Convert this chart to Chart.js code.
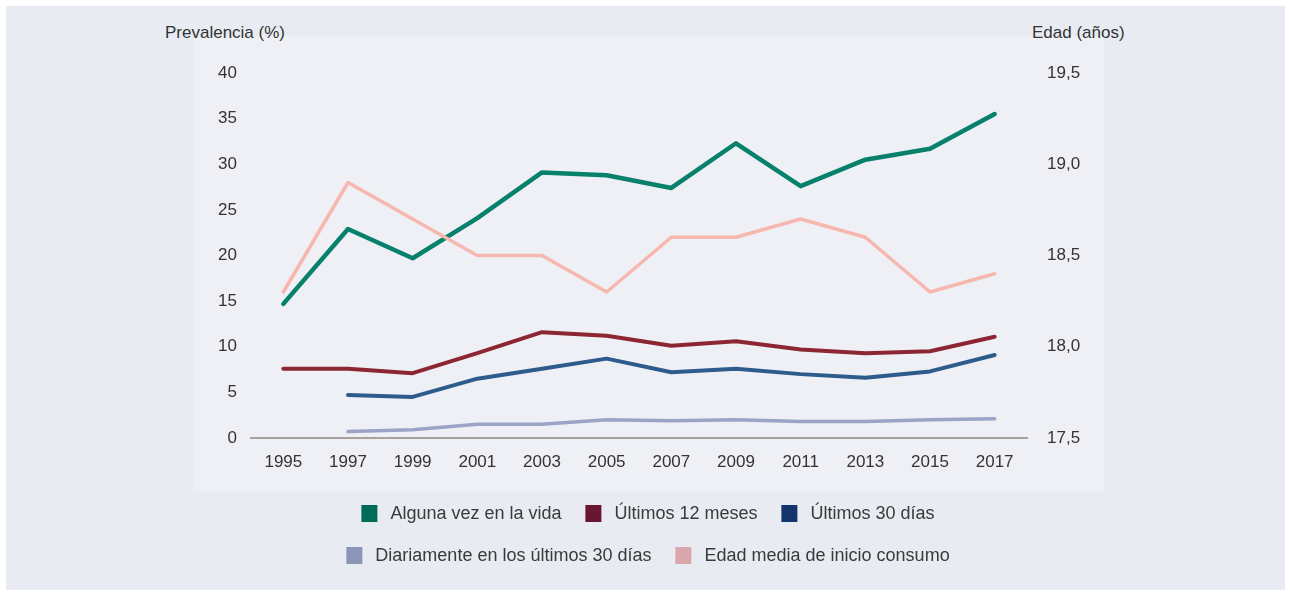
<!DOCTYPE html>
<html>
<head>
<meta charset="utf-8">
<script src="https://cdn.jsdelivr.net/npm/chart.js@4"></script>
<style>
    html, body { margin: 0; padding: 0; background: #ffffff; }
    body { width: 1290px; height: 594px; position: relative; overflow: hidden; font-family: "Liberation Sans", Arial, sans-serif; }
    #panel { position: absolute; left: 6px; top: 6px; width: 1279px; height: 584px; background: #e9ebf2; }
    #plotBg { position: absolute; left: 193px; top: 36px; width: 911px; height: 456px; background: #eff0f5; }
    #chartBox { position: absolute; left: 0; top: 0; width: 1290px; height: 594px; }
    .axisTitle { position: absolute; top: 23px; font-size: 17px; line-height: 20px; color: #333333; }
    .legendRow { position: absolute; left: 648px; transform: translateX(-50%); white-space: nowrap; font-size: 18px; line-height: 20px; color: #3a3a3a; display: flex; align-items: center; }
    .legendItem { display: flex; align-items: center; margin: 0 12px; }
    .legendItem span.box { display: inline-block; width: 16px; height: 17px; margin-right: 13px; }
</style>
</head>
<body>
<div id="panel"></div>
<div id="plotBg"></div>
<div class="axisTitle" style="left:165px;">Prevalencia (%)</div>
<div class="axisTitle" style="left:1032px;">Edad (años)</div>
<div id="chartBox"><canvas id="lineChart" width="1290" height="594"></canvas></div>
<div class="legendRow" id="legendRow1" style="top:503px;"></div>
<div class="legendRow" id="legendRow2" style="top:545px;"></div>

<script>
const years = ['1995', '1997', '1999', '2001', '2003', '2005', '2007', '2009', '2011', '2013', '2015', '2017'];

const algunaVez = [14.7, 22.9, 19.7, 24.1, 29.1, 28.8, 27.4, 32.3, 27.6, 30.5, 31.7, 35.5];
const ultimos12 = [7.6, 7.6, 7.1, 9.3, 11.6, 11.2, 10.1, 10.6, 9.7, 9.3, 9.5, 11.1];
const ultimos30 = [null, 4.7, 4.5, 6.5, 7.6, 8.7, 7.2, 7.6, 7.0, 6.6, 7.3, 9.1];
const diariamente = [null, 0.7, 0.9, 1.5, 1.5, 2.0, 1.9, 2.0, 1.8, 1.8, 2.0, 2.1];
const edadMedia = [18.3, 18.9, 18.7, 18.5, 18.5, 18.3, 18.6, 18.6, 18.7, 18.6, 18.3, 18.4];

const leftTicks = [0, 5, 10, 15, 20, 25, 30, 35, 40];
const rightTicks = ['17,5', '18,0', '18,5', '19,0', '19,5'];

const seriesNames = ['Alguna vez en la vida', 'Últimos 12 meses', 'Últimos 30 días',
    'Diariamente en los últimos 30 días', 'Edad media de inicio consumo'];
const lineColors = ['#07806c', '#8c2633', '#2d5b8c', '#9ba4c7', '#f6b8ae'];
const legendColors = ['#006b56', '#6a1631', '#12366b', '#8b95b8', '#d9a6ac'];
const lineWidths = [4.5, 4, 4, 3.5, 3.5];

const tickFont = { family: '"Liberation Sans", Arial, sans-serif', size: 17 };

function makeDataset(i, data, axis) {
    return {
        label: seriesNames[i],
        data: data,
        yAxisID: axis,
        borderColor: lineColors[i],
        backgroundColor: lineColors[i],
        borderWidth: lineWidths[i],
        pointRadius: 0,
        tension: 0,
        borderCapStyle: 'round',
        borderJoinStyle: 'round',
        spanGaps: false
    };
}

const ctx = document.getElementById('lineChart').getContext('2d');
new Chart(ctx, {
    type: 'line',
    data: {
        labels: years,
        datasets: [
            makeDataset(4, edadMedia, 'yRight'),
            makeDataset(3, diariamente, 'y'),
            makeDataset(2, ultimos30, 'y'),
            makeDataset(1, ultimos12, 'y'),
            makeDataset(0, algunaVez, 'y')
        ]
    },
    options: {
        responsive: false,
        animation: false,
        layout: { padding: { top: 73, left: 0, right: 0, bottom: 0 } },
        plugins: {
            legend: { display: false },
            tooltip: { enabled: false }
        },
        scales: {
            x: {
                offset: true,
                grid: { display: false, drawTicks: false },
                border: { display: true, color: '#a8a39a', width: 2 },
                ticks: {
                    color: '#333333',
                    padding: 14,
                    maxRotation: 0,
                    font: tickFont
                },
                afterFit: function (scale) { scale.height = 156; }
            },
            y: {
                position: 'left',
                min: 0,
                max: 40,
                afterBuildTicks: function (scale) {
                    scale.ticks = leftTicks.map(v => ({ value: v }));
                },
                grid: { display: false, drawTicks: false },
                border: { display: false },
                ticks: {
                    color: '#333333',
                    padding: 14,
                    font: tickFont
                },
                afterFit: function (scale) { scale.width = 251; }
            },
            yRight: {
                position: 'right',
                min: 17.5,
                max: 19.5,
                afterBuildTicks: function (scale) {
                    scale.ticks = rightTicks.map(t => ({ value: parseFloat(t.replace(',', '.')) }));
                },
                grid: { display: false, drawTicks: false },
                border: { display: false },
                ticks: {
                    color: '#333333',
                    padding: 20,
                    font: tickFont,
                    callback: function (value) {
                        return value.toFixed(1).replace('.', ',');
                    }
                },
                afterFit: function (scale) { scale.width = 263; }
            }
        }
    }
});

// Legend built from the same series names and colours
const rows = [[0, 1, 2], [3, 4]];
rows.forEach((row, r) => {
    const rowEl = document.getElementById('legendRow' + (r + 1));
    row.forEach(i => {
        const item = document.createElement('span');
        item.className = 'legendItem';
        item.innerHTML = '<span class="box" style="background:' + legendColors[i] + '"></span>' + seriesNames[i];
        rowEl.appendChild(item);
    });
});
</script>
</body>
</html>
